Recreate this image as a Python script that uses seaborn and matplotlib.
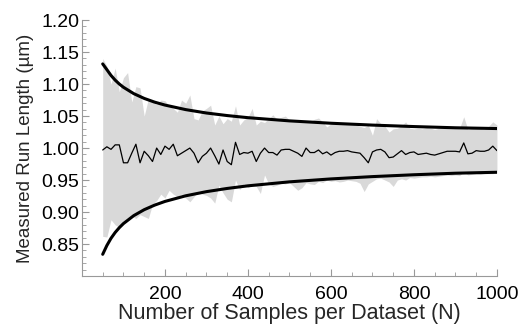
import numpy as np
import pandas as pd
import matplotlib
matplotlib.use("Agg")
import matplotlib.pyplot as plt
import seaborn as sns
from matplotlib.ticker import MultipleLocator

# samples per dataset, step 10
n_samples = list(range(50, 1001, 10))

# measured mean run length per N
mean_run = [
    0.997, 1.002, 0.998, 1.005, 1.005, 0.977, 0.977, 0.992, 1.006, 0.977,
    0.995, 0.988, 0.979, 1.000, 0.990, 1.003, 0.998, 1.006, 0.988, 0.992,
    0.996, 1.000, 0.992, 0.977, 0.987, 0.992, 1.000, 0.988, 0.975, 0.997,
    0.979, 0.974, 1.009, 0.990, 0.993, 0.992, 0.995, 0.979, 0.992, 1.000,
    0.993, 0.993, 0.989, 0.997, 0.998, 0.998, 0.995, 0.992, 0.987, 1.000,
    0.993, 0.993, 0.997, 0.991, 0.994, 0.989, 0.993, 0.995, 0.995, 0.996,
    0.994, 0.993, 0.992, 0.985, 0.977, 0.994, 0.997, 0.998, 0.994, 0.985,
    0.986, 0.991, 0.996, 0.990, 0.993, 0.994, 0.990, 0.991, 0.992, 0.990,
    0.989, 0.991, 0.993, 0.995, 0.995, 0.995, 0.994, 1.008, 0.991, 0.992,
    0.996, 0.995, 0.995, 0.997, 1.003, 0.996,
]

# spread of simulated datasets (grey band)
band_upper = [
    1.140, 1.128, 1.100, 1.125, 1.088, 1.110, 1.118, 1.072, 1.096, 1.094,
    1.050, 1.077, 1.072, 1.068, 1.075, 1.074, 1.066, 1.062, 1.056, 1.075,
    1.070, 1.083, 1.046, 1.044, 1.058, 1.062, 1.067, 1.036, 1.050, 1.038,
    1.046, 1.042, 1.066, 1.036, 1.044, 1.048, 1.062, 1.036, 1.042, 1.040,
    1.046, 1.052, 1.045, 1.048, 1.050, 1.044, 1.042, 1.041, 1.040, 1.042,
    1.041, 1.045, 1.047, 1.041, 1.033, 1.038, 1.039, 1.040, 1.038, 1.040,
    1.038, 1.036, 1.034, 1.032, 1.036, 1.020, 1.046, 1.038, 1.034, 1.025,
    1.030, 1.031, 1.035, 1.041, 1.031, 1.030, 1.031, 1.030, 1.032, 1.031,
    1.029, 1.031, 1.031, 1.032, 1.031, 1.032, 1.031, 1.049, 1.029, 1.031,
    1.031, 1.031, 1.029, 1.034, 1.041, 1.036,
]
band_lower = [
    0.862, 0.861, 0.888, 0.880, 0.876, 0.885, 0.891, 0.894, 0.890, 0.896,
    0.893, 0.890, 0.912, 0.918, 0.928, 0.922, 0.934, 0.928, 0.924, 0.928,
    0.922, 0.916, 0.924, 0.932, 0.928, 0.926, 0.922, 0.914, 0.942, 0.930,
    0.920, 0.916, 0.950, 0.935, 0.944, 0.938, 0.942, 0.940, 0.929, 0.958,
    0.944, 0.940, 0.942, 0.945, 0.944, 0.946, 0.940, 0.934, 0.938, 0.946,
    0.944, 0.943, 0.948, 0.946, 0.950, 0.948, 0.949, 0.947, 0.948, 0.950,
    0.949, 0.948, 0.945, 0.932, 0.944, 0.948, 0.952, 0.953, 0.950, 0.947,
    0.940, 0.950, 0.952, 0.950, 0.954, 0.953, 0.954, 0.955, 0.955, 0.956,
    0.955, 0.956, 0.957, 0.958, 0.957, 0.958, 0.957, 0.963, 0.958, 0.959,
    0.960, 0.959, 0.960, 0.960, 0.960, 0.961,
]

# expected confidence envelope
env_n = [50, 60, 70, 80, 90, 100, 125, 150, 175, 200, 250, 300, 350, 400,
         500, 600, 700, 800, 900, 1000]
env_upper = [1.1315, 1.1226, 1.1135, 1.1062, 1.1001, 1.0950, 1.0850, 1.0776,
             1.0718, 1.0672, 1.0601, 1.0548, 1.0508, 1.0475, 1.0425, 1.0388,
             1.0359, 1.0336, 1.0317, 1.0305]
env_lower = [0.8340, 0.8477, 0.8590, 0.8681, 0.8756, 0.8820, 0.8945, 0.9037,
             0.9108, 0.9166, 0.9254, 0.9319, 0.9369, 0.9410, 0.9472, 0.9518,
             0.9554, 0.9583, 0.9607, 0.9622]

y_ticks = [0.85, 0.90, 0.95, 1.00, 1.05, 1.10, 1.15, 1.20]
x_ticks = [200, 400, 600, 800, 1000]

df = pd.DataFrame({"N": n_samples, "mean": mean_run,
                   "hi": band_upper, "lo": band_lower})
env = pd.DataFrame({"N": env_n, "upper": env_upper, "lower": env_lower})

sns.set_style("ticks")
plt.rcParams['font.family'] = ['Liberation Sans', 'DejaVu Sans']

fig = plt.figure(figsize=(5.22, 3.24), dpi=100)
ax = fig.add_axes([0.157, 0.148, 0.795, 0.790])

ax.fill_between(df["N"], df["lo"], df["hi"], color="#d9d9d9", linewidth=0)
sns.lineplot(data=df, x="N", y="mean", ax=ax, color="black", linewidth=0.9)
sns.lineplot(data=env, x="N", y="upper", ax=ax, color="black", linewidth=2.2)
sns.lineplot(data=env, x="N", y="lower", ax=ax, color="black", linewidth=2.2)

ax.set_xlim(0, 1000)
ax.set_ylim(0.80, 1.20)
ax.xaxis.set_minor_locator(MultipleLocator(50))
ax.yaxis.set_minor_locator(MultipleLocator(0.01))
ax.set_xticks(x_ticks)
ax.set_yticks(y_ticks)
ax.set_yticklabels([f"{v:.2f}" for v in y_ticks])

ax.tick_params(which="both", direction="in", color="#999999", labelsize=14,
               labelcolor="black")
ax.tick_params(which="major", length=5, width=0.8)
ax.tick_params(which="minor", length=3, width=0.6)
ax.tick_params(axis="x", pad=7)
ax.tick_params(axis="y", pad=2)

sns.despine(ax=ax)
for side in ["left", "bottom"]:
    ax.spines[side].set_color("#999999")
    ax.spines[side].set_linewidth(0.8)

ax.set_xlabel("Number of Samples per Dataset (N)", fontsize=15.5, labelpad=0)
ax.set_ylabel("Measured Run Length (µm)", fontsize=13.5, labelpad=5)

fig.savefig("out.png", dpi=100)
